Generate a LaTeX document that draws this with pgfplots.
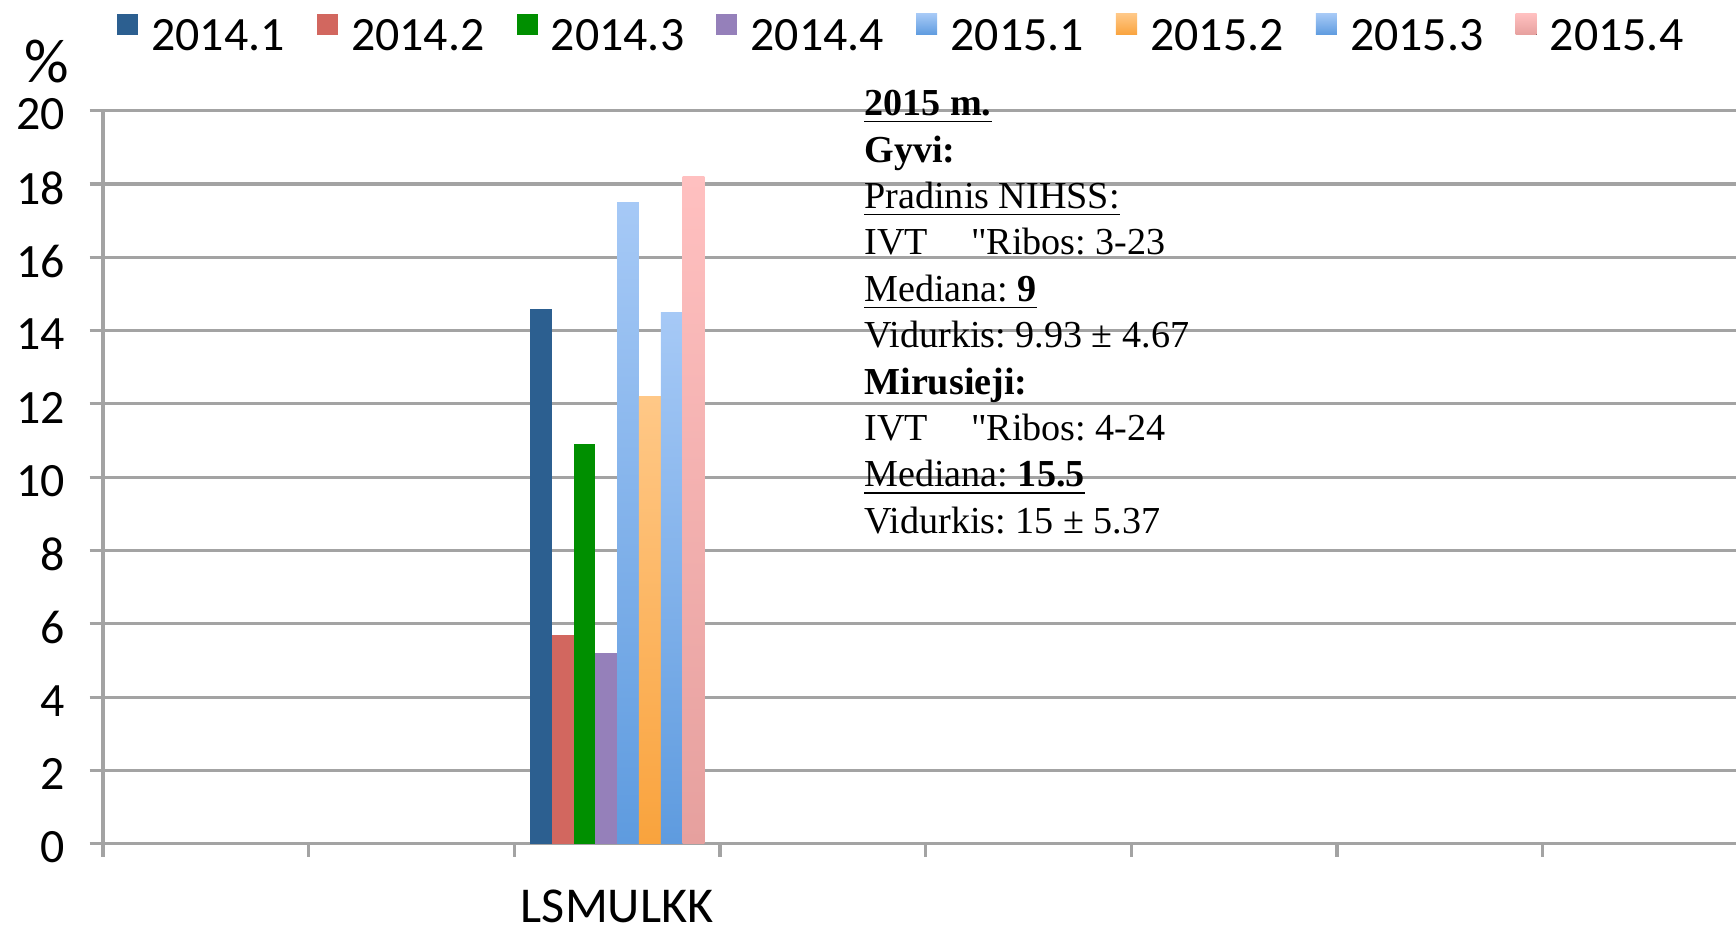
\documentclass[border=0pt]{standalone}
\usepackage{pgfplots}
\pgfplotsset{compat=1.18}
\usepackage{fontspec}
\setmainfont{Carlito}
\newfontfamily\tnr{Liberation Serif}
\frenchspacing
\definecolor{gridgray}{HTML}{A3A3A3}
\definecolor{c1}{HTML}{2C5F90}
\definecolor{c2}{HTML}{D2675F}
\definecolor{c3}{HTML}{008F00}
\definecolor{c4}{HTML}{9580BA}
\definecolor{c5t}{HTML}{A6C9F6}
\definecolor{c5b}{HTML}{5E9BDF}
\definecolor{c6t}{HTML}{FFC887}
\definecolor{c6b}{HTML}{F9A33D}
\definecolor{c8t}{HTML}{FFC0C0}
\definecolor{c8b}{HTML}{E6A09E}
\begin{document}
\begin{tikzpicture}
\begin{axis}[
  scale only axis, width=14.75cm, height=6.62cm,
  at={(0,0)}, anchor=south west, clip=false,
  xmin=0, xmax=7.94, ymin=0, ymax=20,
  axis lines=left,
  axis line style={-, draw=gridgray, line width=0.8pt},
  ytick={0,2,...,20},
  xtick={0,...,7}, xticklabels={},
  extra x ticks={2.5}, extra x tick labels={LSMULKK},
  extra x tick style={major tick length=0pt, grid=none,
     xticklabel style={yshift=-0.41cm, text depth=0pt, font=\fontsize{12.9}{15}\selectfont}},
  ymajorgrids, grid style={gridgray, line width=0.8pt},
  tick align=outside, major tick length=0.12cm,
  tick style={gridgray, line width=0.8pt},
  /pgf/number format/assume math mode=true,
  tick label style={font=\fontsize{12.3}{14}\selectfont, inner sep=0pt},
  yticklabel style={anchor=east, xshift=-0.22cm, yshift=-0.035cm},
  ybar=0pt, bar width=0.106,
  legend columns=8,
  legend style={draw=none, fill=none, inner sep=0pt,
     at={(axis description cs:0.0081,1.103)}, anchor=west,
     font=\fontsize{12.3}{14}\selectfont,
     nodes={inner sep=0pt},
     /tikz/every odd column/.append style={column sep=0.12cm},
     /tikz/every even column/.append style={column sep=0.29cm}},
  legend image code/.code={\fill[#1] (0cm,0.03cm) rectangle (0.19cm,0.22cm);},
]
\addplot[fill=c1, draw=none] coordinates {(2.5,14.6)};
\addplot[fill=c2, draw=none] coordinates {(2.5,5.7)};
\addplot[fill=c3, draw=none] coordinates {(2.5,10.9)};
\addplot[fill=c4, draw=none] coordinates {(2.5,5.2)};
\addplot[top color=c5t, bottom color=c5b, draw=none] coordinates {(2.5,17.5)};
\addplot[top color=c6t, bottom color=c6b, draw=none] coordinates {(2.5,12.2)};
\addplot[top color=c5t, bottom color=c5b, draw=none] coordinates {(2.5,14.5)};
\addplot[top color=c8t, bottom color=c8b, draw=none] coordinates {(2.5,18.2)};
\legend{2014.1,2014.2,2014.3,2014.4,2015.1,2015.2,2015.3,2015.4}
\node[anchor=center, inner sep=0pt, font=\fontsize{16}{18}\selectfont]
  at (axis description cs:-0.0346,1.067) {\%};
\node[anchor=north west, inner sep=0pt, align=left,
  font=\tnr\fontsize{9.8}{11.93}\selectfont]
  at (axis description cs:0.4658,1.0290) {%
  \underline{\textbf{2015 m.}}\\
  \textbf{Gyvi:}\\
  \underline{Pradinis NIHSS:}\\
  IVT\hspace{1.13em}"Ribos: 3-23\\
  \underline{Mediana: \textbf{9}}\\
  Vidurkis: 9.93 ± 4.67\\
  \textbf{Mirusieji:}\\
  IVT\hspace{1.13em}"Ribos: 4-24\\
  \underline{Mediana: \textbf{15.5}}\\
  Vidurkis: 15 ± 5.37};
\end{axis}
\pgfresetboundingbox
\path[use as bounding box] (-0.93cm,-0.80cm) rectangle (14.75cm,7.62cm);
\end{tikzpicture}
\end{document}
